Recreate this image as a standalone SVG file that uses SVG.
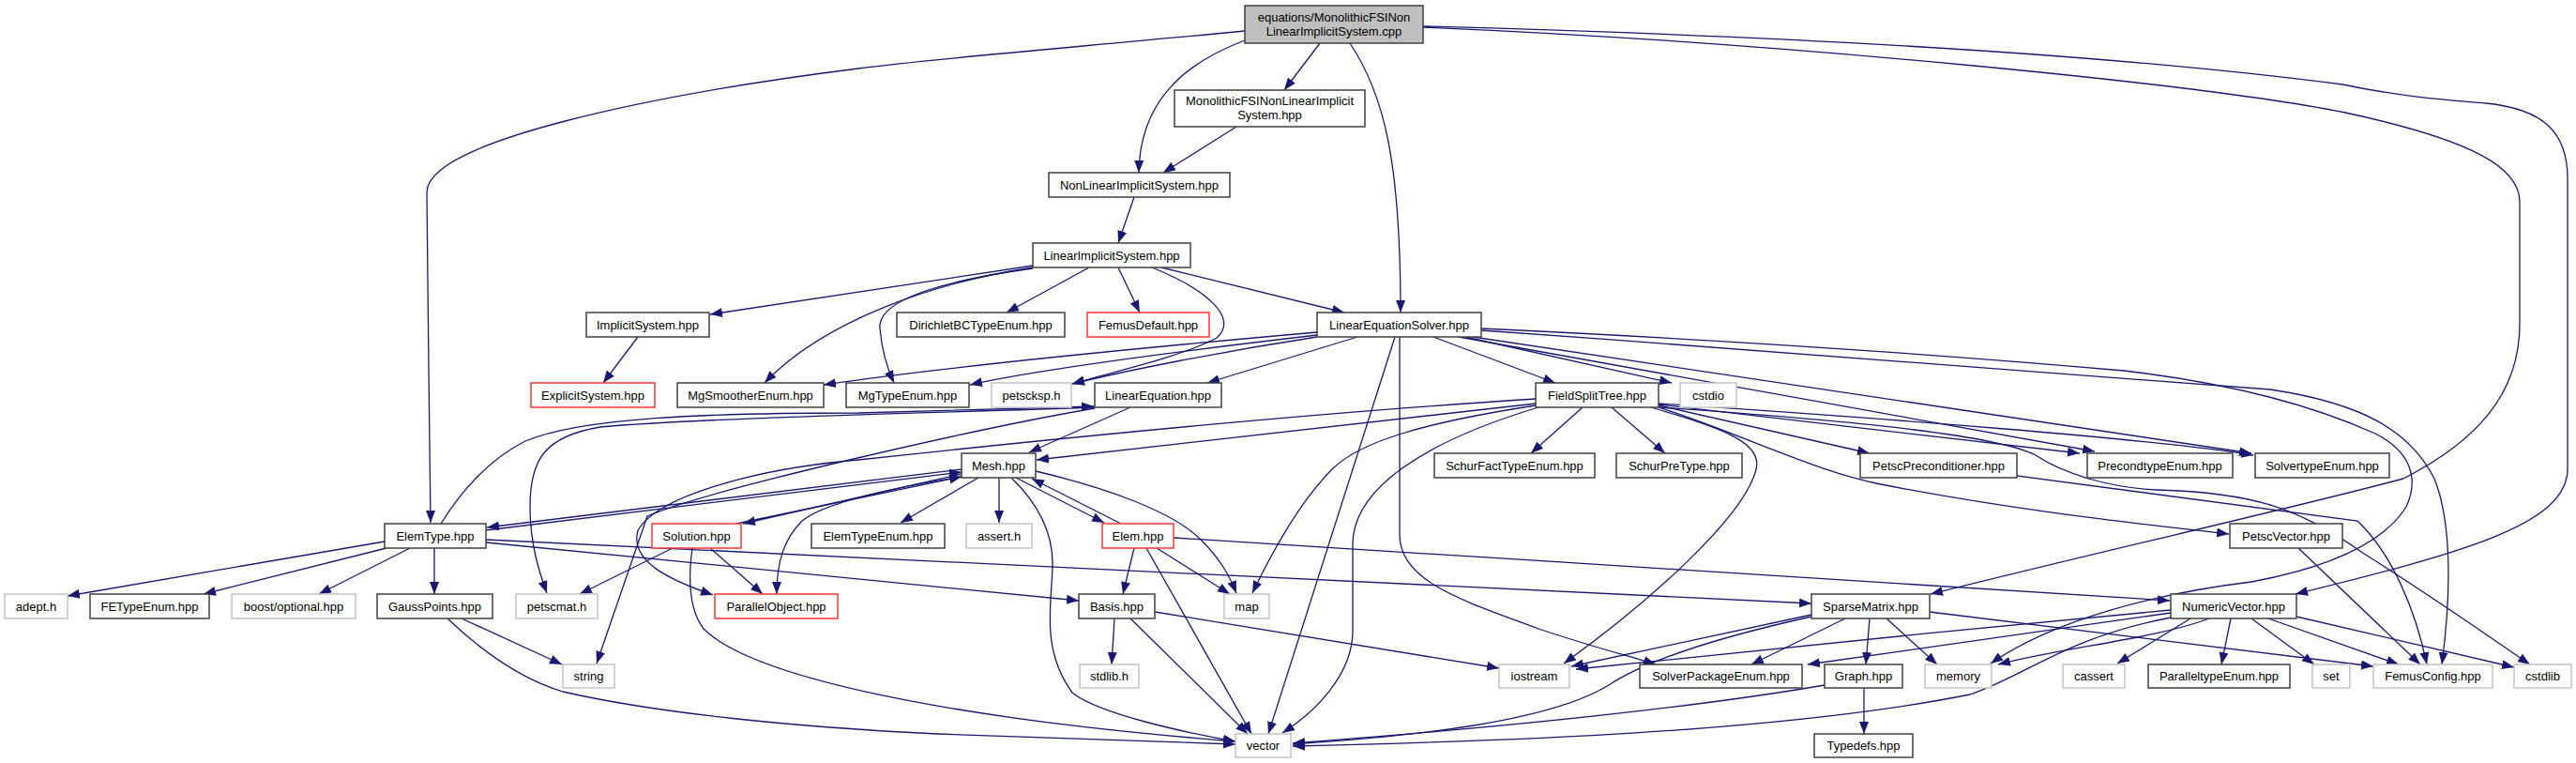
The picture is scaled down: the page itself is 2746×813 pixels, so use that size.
<svg xmlns="http://www.w3.org/2000/svg" width="2746" height="813" viewBox="0 0 2746 813">
<style>
text{font-family:"Liberation Sans",Arial,sans-serif;font-size:13px;fill:#000;text-anchor:middle}
.n rect{fill:#fff;stroke:#404040;stroke-width:1.5}
.r rect{fill:#fff;stroke:#ff3333;stroke-width:1.5}
.g rect{fill:#fff;stroke:#c4c4c4;stroke-width:1.5}
.root rect{fill:#bfbfbf;stroke:#404040;stroke-width:1.5}
#edges path{fill:none;stroke:#191970;stroke-width:1.3;marker-end:url(#a)}
</style>
<defs>
<marker id="a" markerUnits="userSpaceOnUse" markerWidth="14" markerHeight="11" refX="13" refY="5" orient="auto">
<path d="M0,0 L13,5 L0,10 z" fill="#191970" stroke="none"/>
</marker>
</defs>
<rect width="2746" height="813" fill="#fff"/>
<g id="edges">
<path d="M1327,33 C1150,50 1000,62 915,73 C700,100 455,150 455,205 C455,300 459,480 459,557"/>
<path d="M1407,46 L1369,96"/>
<path d="M1327,43 C1260,68 1215,110 1214,184"/>
<path d="M1439,46 C1475,100 1493,170 1493,333"/>
<path d="M1517,28 C1900,38 2250,58 2497,90 C2560,103 2600,106 2650,110 C2710,116 2737,140 2737,190 L2737,500 C2737,560 2620,590 2447,633"/>
<path d="M1517,29 C1900,45 2350,90 2500,120 C2640,150 2686,180 2686,215 L2686,345 C2686,420 2640,470 2562,510 C2450,540 2250,585 2058,633"/>
<path d="M1318,135 L1240,184"/>
<path d="M1209,210 L1192,259"/>
<path d="M1101,283 L757,335"/>
<path d="M1101,285 C1000,300 880,340 815,408"/>
<path d="M1101,286 C1000,300 935,320 938,350 C940,375 947,395 953,408"/>
<path d="M1161,285 L1073,333"/>
<path d="M1192,285 L1215,333"/>
<path d="M1228,285 C1290,310 1320,340 1297,360 C1260,380 1180,398 1143,409"/>
<path d="M1238,285 L1433,333"/>
<path d="M680,359 L643,408"/>
<path d="M1404,354 C1200,372 1000,392 878,410"/>
<path d="M1404,357 C1250,375 1100,395 1034,410"/>
<path d="M1404,359 C1300,375 1200,395 1143,409"/>
<path d="M1447,359 L1287,408"/>
<path d="M1487,359 L1352,782"/>
<path d="M1492,359 L1492,570 C1492,620 1560,640 1640,670 C1700,690 1740,700 1765,708"/>
<path d="M1528,359 L1658,408"/>
<path d="M1562,359 L1782,408"/>
<path d="M1555,359 L2233,481"/>
<path d="M1570,359 L2400,483"/>
<path d="M1579,352 C1900,375 2250,400 2420,415 C2520,430 2570,460 2595,510 C2615,560 2612,640 2603,708"/>
<path d="M1579,350 C1900,365 2150,385 2264,395 C2350,405 2450,425 2532,462 C2572,482 2578,512 2565,540 C2540,580 2480,605 2400,620 C2300,632 2190,660 2122,707"/>
<path d="M1205,434 L1097,482"/>
<path d="M1167,434 C1000,440 750,445 640,455 C580,465 565,490 565,540 C565,580 575,610 583,632"/>
<path d="M1167,435 C1050,455 760,520 690,550 L636,707"/>
<path d="M470,558 C500,510 530,485 560,470 C620,445 750,440 915,440 L1166,433"/>
<path d="M1637,425 C1400,440 1100,470 915,490 C800,500 700,530 680,565 C670,600 720,620 760,634"/>
<path d="M1637,430 L1105,490"/>
<path d="M1637,432 C1520,450 1450,470 1420,500 C1390,530 1360,580 1335,632"/>
<path d="M1640,434 C1520,470 1442,520 1442,580 L1442,672 C1442,720 1400,760 1367,781"/>
<path d="M1687,434 L1632,483"/>
<path d="M1718,434 L1775,483"/>
<path d="M1768,432 L1993,483"/>
<path d="M1768,431 L2217,483"/>
<path d="M1768,430 C2000,445 2300,468 2402,485"/>
<path d="M1768,434 C1850,460 1930,500 2000,515 C2150,545 2300,560 2376,569"/>
<path d="M1768,434 C2000,450 2130,465 2170,485 C2200,505 2250,520 2300,522 C2400,525 2450,540 2520,590 C2600,640 2670,690 2697,708"/>
<path d="M1760,434 C1830,455 1880,470 1872,500 C1860,550 1760,640 1667,707"/>
<path d="M1025,500 L519,562"/>
<path d="M518,565 L1025,503"/>
<path d="M1025,505 L792,558"/>
<path d="M785,558 L1025,508"/>
<path d="M1025,508 C950,520 880,535 855,555 C835,575 828,600 828,633"/>
<path d="M1043,509 L960,557"/>
<path d="M1065,509 L1065,557"/>
<path d="M1083,509 L1177,557"/>
<path d="M1195,558 L1100,510"/>
<path d="M1078,509 C1110,540 1122,570 1122,600 C1122,640 1108,690 1143,738 C1170,760 1260,780 1317,790"/>
<path d="M1104,502 C1180,520 1250,545 1280,575 C1300,595 1310,612 1318,632"/>
<path d="M1209,584 L1197,633"/>
<path d="M1222,584 L1334,782"/>
<path d="M1233,584 L1311,633"/>
<path d="M1251,573 C1600,595 2000,620 2313,640"/>
<path d="M518,575 L1931,643"/>
<path d="M518,578 L1150,640"/>
<path d="M410,577 L72,635"/>
<path d="M412,584 L217,633"/>
<path d="M437,584 L340,633"/>
<path d="M463,584 L463,633"/>
<path d="M492,659 L599,708"/>
<path d="M477,659 C520,700 560,725 600,737 C700,760 850,775 1000,782 C1150,788 1250,791 1317,793"/>
<path d="M717,584 L618,633"/>
<path d="M757,584 L813,633"/>
<path d="M738,584 C733,620 735,650 750,670 C800,720 1000,765 1317,790"/>
<path d="M1188,659 L1185,708"/>
<path d="M1205,659 L1330,782"/>
<path d="M1231,652 L1598,712"/>
<path d="M1931,655 L1675,710"/>
<path d="M1931,657 C1850,675 1760,700 1715,730 C1650,770 1500,785 1378,793"/>
<path d="M1967,659 L1867,708"/>
<path d="M1993,659 L1989,708"/>
<path d="M2011,659 L2065,708"/>
<path d="M2057,652 L2530,710"/>
<path d="M2314,650 C2100,670 1900,690 1680,713"/>
<path d="M2314,653 L1927,708"/>
<path d="M2314,658 C2200,680 2160,720 2100,740 C1900,780 1600,790 1378,795"/>
<path d="M2355,659 C2300,680 2200,690 2130,708"/>
<path d="M2335,659 L2257,707"/>
<path d="M2378,659 L2368,708"/>
<path d="M2400,659 L2467,708"/>
<path d="M2418,659 L2557,708"/>
<path d="M2448,657 L2680,711"/>
<path d="M2450,584 L2580,708"/>
<path d="M2150,507 L2513,555 C2550,590 2575,650 2587,708"/>
<path d="M1987,733 L1987,782"/>
<path d="M1945,730 C1800,755 1600,775 1378,792"/>
</g>
<g id="n_root" class="root"><rect x="1327" y="6" width="190" height="40"/><text x="1422" y="22.5">equations/MonolithicFSINon</text><text x="1422" y="37.5">LinearImplicitSystem.cpp</text></g>
<g id="n_mfsi" class="n"><rect x="1252" y="96" width="203" height="39"/><text x="1353.5" y="112">MonolithicFSINonLinearImplicit</text><text x="1353.5" y="127">System.hpp</text></g>
<g id="n_nlis" class="n"><rect x="1118" y="184" width="193" height="26"/><text x="1214.5" y="202">NonLinearImplicitSystem.hpp</text></g>
<g id="n_lis" class="n"><rect x="1101" y="259" width="168" height="26"/><text x="1185" y="277">LinearImplicitSystem.hpp</text></g>
<g id="n_impl" class="n"><rect x="625" y="333" width="131" height="26"/><text x="690.5" y="351">ImplicitSystem.hpp</text></g>
<g id="n_dbc" class="n"><rect x="956" y="333" width="179" height="26"/><text x="1045.5" y="351">DirichletBCTypeEnum.hpp</text></g>
<g id="n_fdef" class="r"><rect x="1159" y="333" width="130" height="26"/><text x="1224" y="351">FemusDefault.hpp</text></g>
<g id="n_les" class="n"><rect x="1404" y="333" width="175" height="26"/><text x="1491.5" y="351">LinearEquationSolver.hpp</text></g>
<g id="n_expl" class="r"><rect x="566" y="408" width="132" height="26"/><text x="632" y="426">ExplicitSystem.hpp</text></g>
<g id="n_mgs" class="n"><rect x="722" y="408" width="156" height="26"/><text x="800" y="426">MgSmootherEnum.hpp</text></g>
<g id="n_mgt" class="n"><rect x="902" y="408" width="131" height="26"/><text x="967.5" y="426">MgTypeEnum.hpp</text></g>
<g id="n_ksp" class="g"><rect x="1057" y="408" width="85" height="26"/><text x="1099.5" y="426">petscksp.h</text></g>
<g id="n_le" class="n"><rect x="1167" y="408" width="135" height="26"/><text x="1234.5" y="426">LinearEquation.hpp</text></g>
<g id="n_fst" class="n"><rect x="1637" y="408" width="131" height="26"/><text x="1702.5" y="426">FieldSplitTree.hpp</text></g>
<g id="n_cstdio" class="g"><rect x="1791" y="408" width="60" height="26"/><text x="1821" y="426">cstdio</text></g>
<g id="n_sft" class="n"><rect x="1529" y="483" width="171" height="26"/><text x="1614.5" y="501">SchurFactTypeEnum.hpp</text></g>
<g id="n_spt" class="n"><rect x="1723" y="483" width="134" height="26"/><text x="1790" y="501">SchurPreType.hpp</text></g>
<g id="n_ppc" class="n"><rect x="1983" y="483" width="167" height="26"/><text x="2066.5" y="501">PetscPreconditioner.hpp</text></g>
<g id="n_pte" class="n"><rect x="2225" y="483" width="155" height="26"/><text x="2302.5" y="501">PrecondtypeEnum.hpp</text></g>
<g id="n_ste" class="n"><rect x="2404" y="483" width="143" height="26"/><text x="2475.5" y="501">SolvertypeEnum.hpp</text></g>
<g id="n_mesh" class="n"><rect x="1025" y="483" width="79" height="26"/><text x="1064.5" y="501">Mesh.hpp</text></g>
<g id="n_et" class="n"><rect x="410" y="558" width="108" height="26"/><text x="464" y="576">ElemType.hpp</text></g>
<g id="n_sol" class="r"><rect x="695" y="558" width="95" height="26"/><text x="742.5" y="576">Solution.hpp</text></g>
<g id="n_ete" class="n"><rect x="865" y="558" width="142" height="26"/><text x="936" y="576">ElemTypeEnum.hpp</text></g>
<g id="n_assert" class="g"><rect x="1030" y="558" width="70" height="26"/><text x="1065" y="576">assert.h</text></g>
<g id="n_elem" class="r"><rect x="1175" y="558" width="76" height="26"/><text x="1213" y="576">Elem.hpp</text></g>
<g id="n_pv" class="n"><rect x="2377" y="558" width="120" height="26"/><text x="2437" y="576">PetscVector.hpp</text></g>
<g id="n_adept" class="g"><rect x="5" y="633" width="67" height="26"/><text x="38.5" y="651">adept.h</text></g>
<g id="n_fete" class="n"><rect x="96" y="633" width="127" height="26"/><text x="159.5" y="651">FETypeEnum.hpp</text></g>
<g id="n_boost" class="g"><rect x="247" y="633" width="132" height="26"/><text x="313" y="651">boost/optional.hpp</text></g>
<g id="n_gp" class="n"><rect x="402" y="633" width="123" height="26"/><text x="463.5" y="651">GaussPoints.hpp</text></g>
<g id="n_pmat" class="g"><rect x="550" y="633" width="87" height="26"/><text x="593.5" y="651">petscmat.h</text></g>
<g id="n_po" class="r"><rect x="762" y="633" width="131" height="26"/><text x="827.5" y="651">ParallelObject.hpp</text></g>
<g id="n_basis" class="n"><rect x="1150" y="633" width="81" height="26"/><text x="1190.5" y="651">Basis.hpp</text></g>
<g id="n_map" class="g"><rect x="1305" y="633" width="48" height="26"/><text x="1329" y="651">map</text></g>
<g id="n_sm" class="n"><rect x="1931" y="633" width="126" height="26"/><text x="1994" y="651">SparseMatrix.hpp</text></g>
<g id="n_nv" class="n"><rect x="2314" y="633" width="134" height="26"/><text x="2381" y="651">NumericVector.hpp</text></g>
<g id="n_string" class="g"><rect x="600" y="708" width="55" height="25"/><text x="627.5" y="725">string</text></g>
<g id="n_stdlib" class="g"><rect x="1151" y="708" width="63" height="25"/><text x="1182.5" y="725">stdlib.h</text></g>
<g id="n_ios" class="g"><rect x="1598" y="708" width="75" height="25"/><text x="1635.5" y="725">iostream</text></g>
<g id="n_spe" class="n"><rect x="1748" y="708" width="173" height="25"/><text x="1834.5" y="725">SolverPackageEnum.hpp</text></g>
<g id="n_graph" class="n"><rect x="1945" y="708" width="83" height="25"/><text x="1986.5" y="725">Graph.hpp</text></g>
<g id="n_memory" class="g"><rect x="2052" y="708" width="71" height="25"/><text x="2087.5" y="725">memory</text></g>
<g id="n_cassert" class="g"><rect x="2199" y="708" width="66" height="25"/><text x="2232" y="725">cassert</text></g>
<g id="n_ple" class="n"><rect x="2290" y="708" width="151" height="25"/><text x="2365.5" y="725">ParalleltypeEnum.hpp</text></g>
<g id="n_set" class="g"><rect x="2465" y="708" width="40" height="25"/><text x="2485" y="725">set</text></g>
<g id="n_fc" class="g"><rect x="2530" y="708" width="127" height="25"/><text x="2593.5" y="725">FemusConfig.hpp</text></g>
<g id="n_cstdlib" class="g"><rect x="2680" y="708" width="61" height="25"/><text x="2710.5" y="725">cstdlib</text></g>
<g id="n_vector" class="g"><rect x="1317" y="782" width="59" height="25"/><text x="1346.5" y="799">vector</text></g>
<g id="n_typedefs" class="n"><rect x="1934" y="782" width="105" height="25"/><text x="1986.5" y="799">Typedefs.hpp</text></g>
</svg>
